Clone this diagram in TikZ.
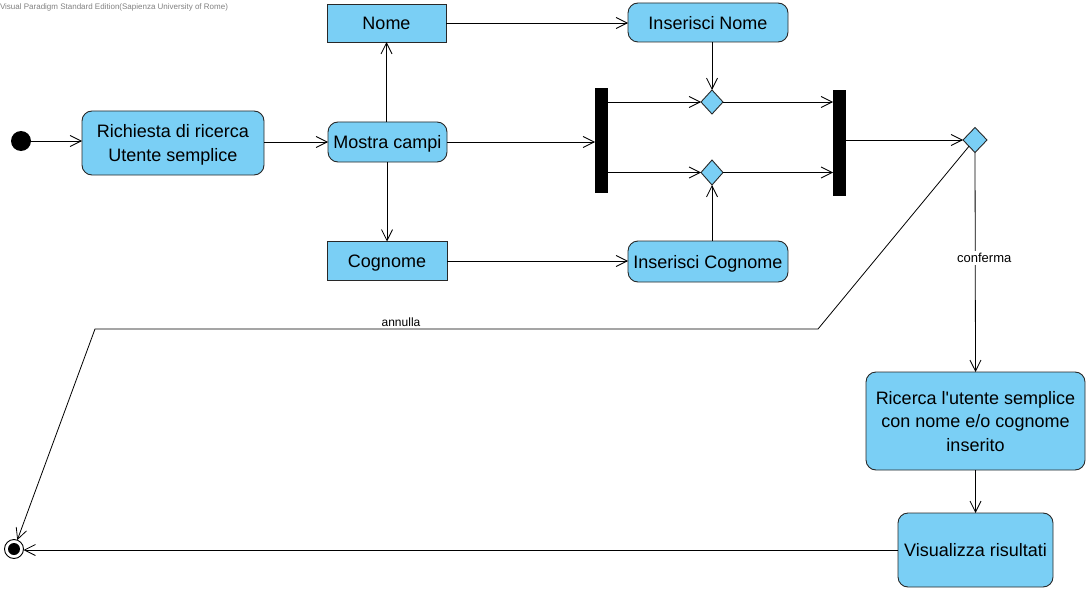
\documentclass[tikz,border=0pt]{standalone}
\usepackage{fontspec}
\setmainfont{Liberation Sans}
\usetikzlibrary{arrows.meta,shapes.geometric}
\definecolor{actblue}{RGB}{122,207,245}
\definecolor{edge}{RGB}{40,40,40}
\tikzset{
  every node/.style={inner sep=0pt, outer sep=0pt},
  base/.style={draw=edge, line width=0.9pt, fill=actblue, align=center,
    font=\fontsize{18}{23.5}\selectfont, text depth=0pt},
  action/.style={base, rounded corners=10pt},
  objbox/.style={base, rounded corners=0pt},
  bar/.style={fill=black, draw=none},
  dec/.style={draw=edge, line width=0.9pt, fill=actblue, diamond, minimum width=22pt, minimum height=24pt},
  flow/.style={draw=black, line width=0.8pt, -{Straight Barb[length=11pt,width=11pt,line width=0.8pt]}},
  lbl/.style={font=\fontsize{13}{15}\selectfont},
}
\begin{document}
\begin{tikzpicture}[x=1pt,y=-1pt]
\useasboundingbox (0,0) rectangle (1089,591);
\node[anchor=west, text=gray, font=\fontsize{8}{9}\selectfont] (wm) at (0,7) {Visual Paradigm Standard Edition(Sapienza University of Rome)};

\node[circle, fill=black, minimum size=20pt] (start) at (21,141) {};
\node[action, minimum width=182pt, minimum height=64pt] (req) at (173,143) {Richiesta di ricerca\\Utente semplice};
\node[action, minimum width=119pt, minimum height=40pt] (show) at (387.5,142) {Mostra campi};
\node[objbox, minimum width=119pt, minimum height=38pt] (nome) at (386.5,23) {Nome};
\node[objbox, minimum width=120pt, minimum height=39pt] (cogn) at (387,261) {Cognome};
\node[action, minimum width=160pt, minimum height=39pt] (insn) at (708,22.5) {Inserisci Nome};
\node[action, minimum width=160pt, minimum height=41pt] (insc) at (708,261.5) {Inserisci Cognome};
\node[bar, minimum width=13pt, minimum height=105pt] (fork) at (601.5,140.5) {};
\node[bar, minimum width=13pt, minimum height=106pt] (join) at (839.5,143) {};
\node[dec] (d1) at (712,102) {};
\node[dec, minimum height=25pt] (d2) at (712,172.5) {};
\node[dec, minimum width=24pt, minimum height=25pt] (d3) at (975,140) {};
\node[action, minimum width=219pt, minimum height=98pt] (search) at (975.5,421) {Ricerca l\textquotesingle utente semplice\\con nome e/o cognome\\inserito};
\node[action, minimum width=155pt, minimum height=74pt] (vis) at (975.5,550) {Visualizza risultati};
\node[circle, draw=black, line width=0.9pt, fill=white, minimum size=19pt] (final) at (14,549) {};
\node[circle, fill=black, minimum size=12pt] (finalin) at (final.center) {};

\coordinate (a1) at (818,329);
\coordinate (a2) at (95,329);

\draw[flow] (start) -- (req.west |- start);
\draw[flow] (req.east |- show) -- (show.west);
\draw[flow] (show.east) -- (fork.west |- show);
\draw[flow] (show.north -| nome) -- (nome.south);
\draw[flow] (show.south -| cogn) -- (cogn.north);
\draw[flow] (nome.east) -- (insn.west |- nome);
\draw[flow] (cogn.east) -- (insc.west |- cogn);
\draw[flow] (insn.south -| d1) -- (d1.north);
\draw[flow] (insc.north -| d2) -- (d2.south);
\draw[flow] (fork.east |- d1) -- (d1.west);
\draw[flow] (fork.east |- d2) -- (d2.west);
\draw[flow] (d1.east) -- (join.west |- d1);
\draw[flow] (d2.east) -- (join.west |- d2);
\draw[flow] (join.east |- d3) -- (d3.west);
\draw[flow] (d3.south) -- (search.north)
  node[lbl, pos=0.48, fill=white, inner sep=2pt, xshift=9pt] (conf) {conferma};
\draw[flow] (d3.south west) -- (a1) -- (a2) -- (final);
\node[lbl, font=\fontsize{12}{14}\selectfont, anchor=south] (ann) at (401,327) {annulla};
\draw[flow] (search.south) -- (vis.north);
\draw[flow] (vis.west) -- (final.east |- vis.west);
\end{tikzpicture}
\end{document}
